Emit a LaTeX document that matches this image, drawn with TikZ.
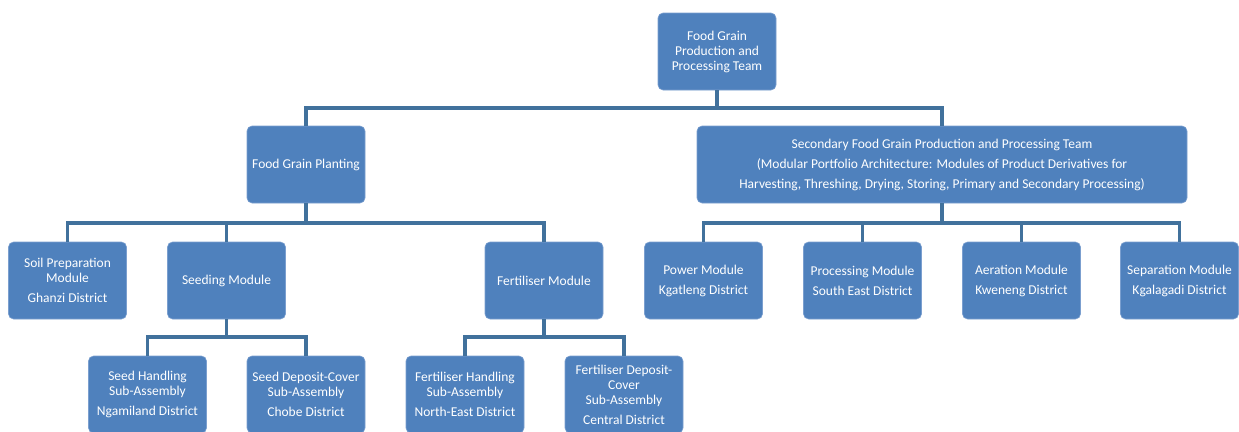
\documentclass[tikz,border=0pt]{standalone}
\usepackage{fontspec}
\setmainfont{Carlito}
\definecolor{boxfill}{HTML}{4F81BD}
\definecolor{boxline}{HTML}{7B9FCF}
\definecolor{conn}{HTML}{41719C}
\begin{document}
\begin{tikzpicture}[x=1pt,y=-1pt,
  box/.style={draw=boxline, line width=0.6pt, fill=boxfill, rounded corners=5pt,
    minimum width=118pt, minimum height=77pt, text=white, align=center,
    font=\fontsize{13.5}{15}\selectfont, inner sep=0.5pt},
  link/.style={draw=conn, line width=3.5pt}]
\useasboundingbox (0,0) rectangle (1239,431);
% nodes
\node[box] (top) at (717,51.5) {Food Grain\\Production and\\Processing Team};
\node[box] (fgp) at (306,164.5) {Food Grain Planting};
\node[box, minimum width=490pt] (sec) at (942,164.5) {Secondary Food Grain Production and Processing Team\\[5pt](Modular Portfolio Architecture: Modules of Product Derivatives for\\[5pt]Harvesting, Threshing, Drying, Storing, Primary and Secondary Processing)};
\node[box] (soil) at (67.5,280.5) {Soil Preparation\\Module\\[5pt]Ghanzi District};
\node[box] (seed) at (226.5,280.5) {Seeding Module};
\node[box] (fert) at (544,280.5) {Fertiliser Module};
\node[box] (power) at (703.5,280.5) {Power Module\\[5pt]Kgatleng District};
\node[box] (proc) at (862.5,280.5) {Processing Module\\[5pt]South East District};
\node[box] (aer) at (1021.5,280.5) {Aeration Module\\[5pt]Kweneng District};
\node[box] (sep) at (1179.5,280.5) {Separation Module\\[5pt]Kgalagadi District};
\node[box] (seedh) at (147.5,394.5) {Seed Handling\\Sub-Assembly\\[5pt]Ngamiland District};
\node[box] (seedd) at (306,394.5) {Seed Deposit-Cover\\Sub-Assembly\\[5pt]Chobe District};
\node[box] (ferth) at (465,394.5) {Fertiliser Handling\\Sub-Assembly\\[5pt]North-East District};
\node[box] (fertd) at (624,394.5) {Fertiliser Deposit-\\Cover\\Sub-Assembly\\[5pt]Central District};
% connectors
\begin{scope}[link]
\draw (top.south) -- (top.south |- 0,108) -| (fgp.north);
\draw (top.south |- 0,108) -| (sec.north);
\draw (fgp.south) -- (fgp.south |- 0,223) -| (soil.north);
\draw (fgp.south |- 0,223) -| (seed.north);
\draw (fgp.south |- 0,223) -| (fert.north);
\draw (sec.south) -- (sec.south |- 0,223) -| (power.north);
\draw (sec.south |- 0,223) -| (proc.north);
\draw (sec.south |- 0,223) -| (aer.north);
\draw (sec.south |- 0,223) -| (sep.north);
\draw (seed.south) -- (seed.south |- 0,337) -| (seedh.north);
\draw (seed.south |- 0,337) -| (seedd.north);
\draw (fert.south) -- (fert.south |- 0,337) -| (ferth.north);
\draw (fert.south |- 0,337) -| (fertd.north);
\end{scope}
\end{tikzpicture}
\end{document}
